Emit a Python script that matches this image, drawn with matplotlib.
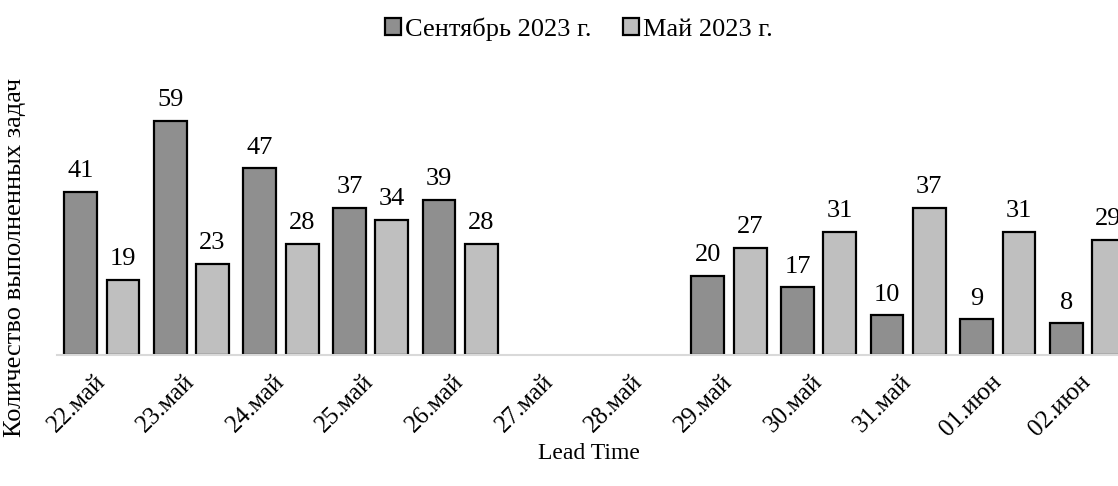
import matplotlib
matplotlib.use("Agg")
import matplotlib.pyplot as plt
import numpy as np

plt.rcParams["font.family"] = ["Liberation Serif", "DejaVu Serif"]

days = ["22.май", "23.май", "24.май", "25.май", "26.май", "27.май", "28.май",
        "29.май", "30.май", "31.май", "01.июн", "02.июн"]
september = [41, 59, 47, 37, 39, 0, 0, 20, 17, 10, 9, 8]
may = [19, 23, 28, 34, 28, 0, 0, 27, 31, 37, 31, 29]

W, H = 1118, 486
fig = plt.figure(figsize=(W / 100, H / 100), dpi=100)
# axes: left 57px, baseline at 355px, top at ~77px; right edge runs off the image
ax = fig.add_axes([57 / W, (H - 355) / H, (W - 57) / W, (355 - 77) / H])

x = np.arange(len(days))
bw = 0.367
b1 = ax.bar(x - 0.236, september, bw, color="#8f8f8f", edgecolor="black",
            linewidth=1.6, label="Сентябрь 2023 г.")
b2 = ax.bar(x + 0.236, may, bw, color="#bfbfbf", edgecolor="black",
            linewidth=1.6, label="Май 2023 г.")
for bars, vals in ((b1, september), (b2, may)):
    for rect, v in zip(bars, vals):
        if v == 0:
            rect.set_visible(False)
    ax.bar_label(bars, labels=[str(v) if v else "" for v in vals],
                 padding=7, fontsize=19)

ax.set_ylim(0, 70)
ax.set_xlim(-0.5, -0.5 + (W - 57) / 89.6)
ax.set_xticks(x)
ax.set_xticklabels(days, rotation=45, ha="right", va="center",
                   rotation_mode="anchor", fontsize=18)
ax.tick_params(axis="x", length=0, pad=17)
ax.set_yticks([])
for s in ("top", "right", "left"):
    ax.spines[s].set_visible(False)
ax.spines["bottom"].set_color("#d9d9d9")
ax.spines["bottom"].set_linewidth(1.5)

fig.text(15 / W, 1 - 257 / H, "Количество выполненных задач", rotation=90,
         ha="center", va="center", fontsize=19)
fig.text(589 / W, 1 - 453 / H, "Lead Time", ha="center", va="center", fontsize=17)

fig.legend(loc="center", bbox_to_anchor=(579 / W, 1 - 29 / H), ncol=2,
           frameon=False, fontsize=19, handlelength=0.6, handleheight=0.6,
           handletextpad=0.15, columnspacing=1.2)

fig.savefig("out.png", dpi=100)
